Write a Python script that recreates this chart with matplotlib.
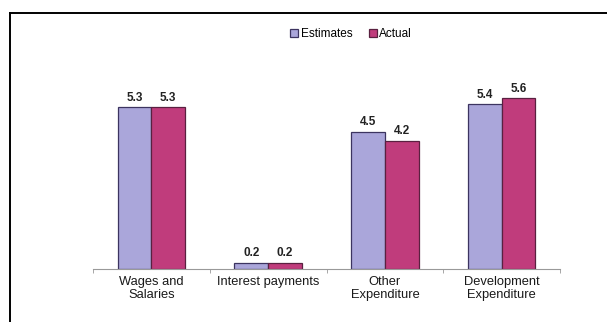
import numpy as np
import matplotlib.pyplot as plt
from matplotlib.lines import Line2D

# budget heads and outturn
categories = ['Wages and\nSalaries', 'Interest payments', 'Other\nExpenditure', 'Development\nExpenditure']
estimates = [5.3, 0.2, 4.5, 5.4]
actual = [5.3, 0.2, 4.2, 5.6]

plt.rcParams['font.family'] = ['Liberation Sans', 'DejaVu Sans']

fig = plt.figure(figsize=(6.07, 3.22), dpi=100)
fig.patch.set_facecolor('white')

# outer frame: top and left edges
top = 1 - 13 / 322
left = 10 / 607
fig.add_artist(Line2D([left, 1.0], [top, top], transform=fig.transFigure,
                      color='black', linewidth=1.4))
fig.add_artist(Line2D([left, left], [0, top], transform=fig.transFigure,
                      color='black', linewidth=1.4))

ax = fig.add_axes([93 / 607, 53 / 322, 467 / 607, 183 / 322])

x = np.arange(len(categories))
w = 0.29
b1 = ax.bar(x - w / 2, estimates, w, color='#aaa6da', edgecolor='#3c3460',
            linewidth=0.9, label='Estimates')
b2 = ax.bar(x + w / 2, actual, w, color='#c03c7c', edgecolor='#5a2040',
            linewidth=0.9, label='Actual')

for bars, vals in ((b1, estimates), (b2, actual)):
    for r, v in zip(bars, vals):
        ax.text(r.get_x() + r.get_width() / 2, v + 0.12, f'{v:.1f}',
                ha='center', va='bottom', fontsize=8.5, fontweight='bold',
                color='#222222')

ax.set_xlim(-0.5, len(categories) - 0.5)
ax.set_ylim(0, 6.0)
ax.set_xticks(x)
ax.set_xticklabels(categories, fontsize=9.3, color='#1a1a1a', linespacing=1.15)
ax.set_xticks(np.arange(-0.5, len(categories)), minor=True)
ax.tick_params(axis='x', which='major', length=0, pad=5)
ax.tick_params(axis='x', which='minor', length=3, color='#999999')
ax.set_yticks([])
for s in ('top', 'right', 'left'):
    ax.spines[s].set_visible(False)
ax.spines['bottom'].set_color('#999999')
ax.set_facecolor('none')

fig.legend(handles=[b1, b2], loc='center', bbox_to_anchor=(351 / 607, 1 - 34 / 322),
           ncol=2, frameon=False, fontsize=8.5, handlelength=0.7, handleheight=0.7,
           handletextpad=0.2, columnspacing=1.4)

fig.savefig('out.png', dpi=100)
